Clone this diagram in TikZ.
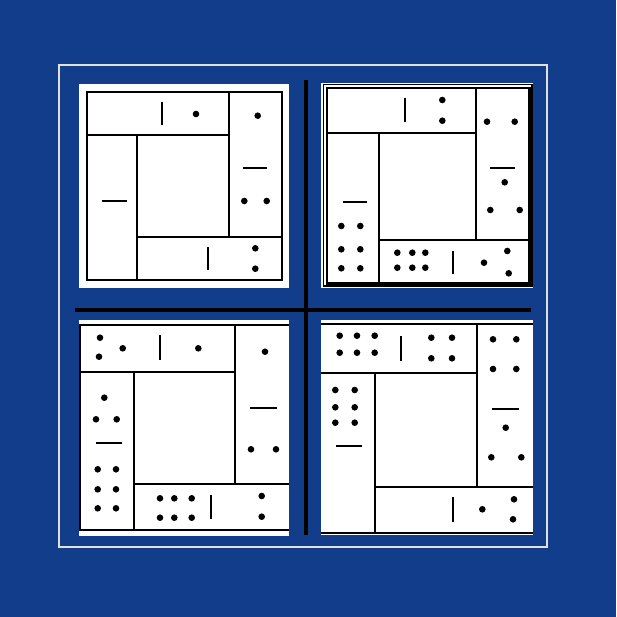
\documentclass[tikz,border=0pt]{standalone}
\begin{document}
\definecolor{bg}{RGB}{17,61,138}
\definecolor{framecol}{RGB}{225,225,212}
\tikzset{
  tileline/.style={line width=2.6pt, black},
  divline/.style={line width=2.2pt, black},
  crossline/.style={line width=4pt, black},
  paper/.style={fill=white},
}
\newcommand\pp[2]{\fill (#1,#2) circle[radius=3.3pt];}
\begin{tikzpicture}[x=1pt,y=-1pt]
\fill[bg] (0,0) rectangle (616,617);
\useasboundingbox (0,0) rectangle (616,617);
% white frame
\draw[framecol, line width=1.5pt] (59,65) rectangle (547,547);

% ---------- tile 1 (top left)
\fill[paper] (79,84) rectangle (289,288);
\draw[tileline] (87,92) rectangle (282,280);
\draw[tileline] (87,135) -- (229,135);
\draw[tileline] (229,92) -- (229,237);
\draw[tileline] (137,237) -- (282,237);
\draw[tileline] (137,135) -- (137,280);
% top 0|1
\draw[divline] (161.7,101.7) -- (161.7,125);
\pp{196}{114}
% right 1/2
\pp{257.7}{115.7}
\draw[divline] (242.7,168.3) -- (267.3,168.3);
\pp{244.3}{201}\pp{266.7}{201}
% bottom 0|2
\draw[divline] (207.7,246.7) -- (207.7,270);
\pp{255.3}{248.3}\pp{255.3}{268.7}
% left 0/0
\draw[divline] (102.3,201) -- (126.7,201);

% ---------- tile 2 (top right)
\fill[paper] (321,83) rectangle (533,288);
\draw[line width=1.2pt] (323.5,84.5) rectangle (532,286);
\draw[tileline] (327,88) rectangle (529.5,283.5);
\draw[tileline] (327,133) -- (476,133);
\draw[tileline] (476,88) -- (476,240);
\draw[tileline] (379,240) -- (529.5,240);
\draw[tileline] (379,133) -- (379,283.5);
% top 0|2
\draw[divline] (404.7,98) -- (404.7,121.7);
\pp{442.3}{100}\pp{442.3}{120.7}
% right 2/3
\pp{487}{121.7}\pp{514.7}{121.7}
\draw[divline] (490.3,167.7) -- (514.7,167.7);
\pp{504.7}{182.3}\pp{490.3}{210}\pp{519.7}{210}
% bottom 6|3
\pp{397.3}{252.7}\pp{412.3}{252.7}\pp{425.3}{252.7}
\pp{397.3}{267.7}\pp{412.3}{267.7}\pp{425.3}{267.7}
\draw[divline] (453,251) -- (453,274.3);
\pp{484}{262.7}\pp{507.3}{251}\pp{508.7}{273.3}
% left 0/6
\draw[divline] (343,201.7) -- (367.3,201.7);
\pp{341.3}{226}\pp{360.3}{226}
\pp{341.3}{249.3}\pp{360.3}{249.3}
\pp{341.3}{268.3}\pp{360.3}{268.3}

% ---------- tile 3 (bottom left)
\fill[paper] (79,320) rectangle (289,536);
\draw[tileline] (289,325) -- (80,325) -- (80,530) -- (289,530);
\draw[tileline] (80,372) -- (235,372);
\draw[tileline] (235,325) -- (235,484);
\draw[tileline] (134,484) -- (289,484);
\draw[tileline] (134,372) -- (134,530);
% top 3|1
\pp{100}{337.7}\pp{99}{356.7}\pp{122.7}{348.3}
\draw[divline] (160,335) -- (160,360);
\pp{198.3}{348.3}
% right 1/2
\pp{265}{351.7}
\draw[divline] (250,407.7) -- (276.7,407.7);
\pp{251}{449.3}\pp{276}{449.3}
% bottom 6|2
\pp{160}{498.3}\pp{174.3}{498.3}\pp{191.7}{498.3}
\pp{160}{517.7}\pp{174.3}{517.7}\pp{191.7}{517.7}
\draw[divline] (211,495) -- (211,519);
\pp{261.7}{496}\pp{261.7}{516.7}
% left 3/6
\pp{104.3}{397.7}\pp{96}{419.3}\pp{116.7}{419.3}
\draw[divline] (95.7,443.3) -- (121.7,443.3);
\pp{97.7}{469.3}\pp{116}{469.3}
\pp{97.7}{489.3}\pp{116}{489.3}
\pp{97.7}{508.3}\pp{116}{508.3}

% ---------- tile 4 (bottom right)
\fill[paper] (321,320) rectangle (533,535);
\draw[tileline] (321,324) -- (533,324);
\draw[tileline] (321,533) -- (533,533);
\draw[tileline] (321,373) -- (477,373);
\draw[tileline] (477,324) -- (477,487);
\draw[tileline] (375,487) -- (533,487);
\draw[tileline] (375,373) -- (375,533);
% top 6|4
\pp{339.7}{335.7}\pp{357}{335.7}\pp{374.7}{335.7}
\pp{339.7}{352.7}\pp{357}{352.7}\pp{374.7}{352.7}
\draw[divline] (401.3,335.7) -- (401.3,361);
\pp{431.3}{337.7}\pp{452}{337.7}\pp{431.3}{358.3}\pp{452}{358.3}
% right 4/3
\pp{493}{339.3}\pp{516.3}{339.3}\pp{493}{369}\pp{516.3}{369}
\draw[divline] (492.3,409.3) -- (518.7,409.3);
\pp{505.7}{427.7}\pp{491.3}{457.3}\pp{521.3}{457.3}
% bottom 0|3
\draw[divline] (453,496.7) -- (453,522.3);
\pp{482.3}{509.3}\pp{514}{499.3}\pp{513}{519.3}
% left 6/0
\pp{335.3}{390}\pp{354.7}{390}
\pp{335.3}{407.3}\pp{354.7}{407.3}
\pp{335.3}{422.7}\pp{354.7}{422.7}
\draw[divline] (336.3,445.7) -- (362.3,445.7);

% ---------- black cross
\draw[crossline] (305.5,80) -- (305.5,535);
\draw[crossline] (75,309.5) -- (531,309.5);
\end{tikzpicture}
\end{document}
